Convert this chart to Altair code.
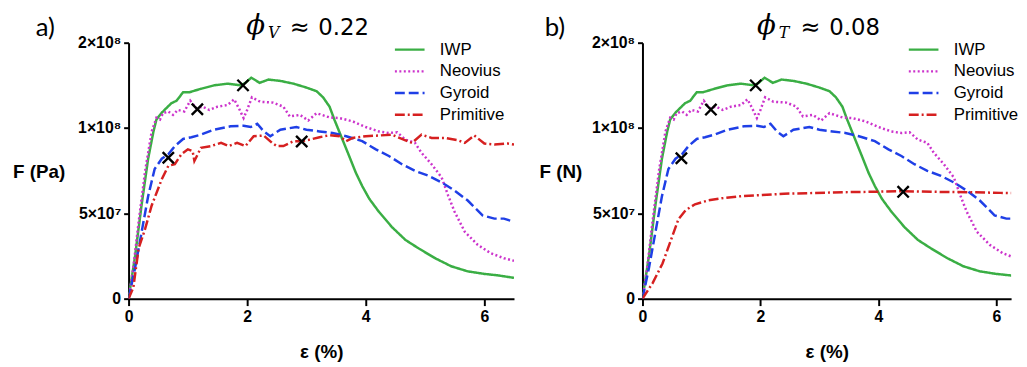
import altair as alt
import pandas as pd

SERIES = ["IWP", "Neovius", "Gyroid", "Primitive"]
COLORS = ["#3aae44", "#cc33cc", "#1f3fe6", "#d62020"]
DASHES = [[1, 0], [2, 2.5], [10, 4], [10, 3, 2, 3]]

# strain (%) and force (x1e8)
iwp_x = [0, 0.11, 0.22, 0.33, 0.42, 0.47, 0.56, 0.72, 0.81, 0.92, 1.03, 1.22, 1.44, 1.67, 1.89, 1.97,
         2.07, 2.21, 2.36, 2.56, 2.78, 3.0, 3.17, 3.28, 3.39, 3.47, 3.61, 3.72, 3.83, 3.94, 4.06, 4.22,
         4.44, 4.67, 4.89, 5.17, 5.44, 5.72, 6.0, 6.22, 6.5]
iwp_y = [0, 0.25, 0.55, 0.82, 0.98, 1.05, 1.09, 1.145, 1.16, 1.21, 1.21, 1.23, 1.25, 1.26, 1.25, 1.265,
         1.295, 1.265, 1.284, 1.276, 1.26, 1.237, 1.216, 1.18, 1.125, 1.05, 0.93, 0.836, 0.74, 0.66, 0.585,
         0.51, 0.42, 0.344, 0.295, 0.237, 0.19, 0.16, 0.145, 0.137, 0.122]

neo_x = [0, 0.08, 0.17, 0.28, 0.39, 0.47, 0.53, 0.58, 0.67, 0.75, 0.83, 0.94, 1.04, 1.14, 1.25, 1.36,
         1.5, 1.67, 1.78, 1.86, 1.94, 2.0, 2.08, 2.22, 2.44, 2.61, 2.72, 2.89, 3.03, 3.17, 3.39, 3.56,
         3.78, 4.0, 4.22, 4.39, 4.53, 4.67, 4.83, 4.94, 5.11, 5.28, 5.39, 5.5, 5.67, 5.89, 6.11, 6.33, 6.5]
neo_y = [0, 0.18, 0.45, 0.75, 0.98, 1.06, 1.05, 1.087, 1.097, 1.077, 1.106, 1.097, 1.16, 1.116, 1.125,
         1.106, 1.125, 1.135, 1.168, 1.116, 1.058, 1.106, 1.18, 1.154, 1.149, 1.125, 1.068, 1.077, 1.044,
         1.087, 1.062, 1.058, 1.039, 1.006, 0.98, 0.971, 0.975, 0.932, 0.913, 0.855, 0.788, 0.71, 0.604,
         0.508, 0.392, 0.315, 0.266, 0.237, 0.222]

gyr_x = [0, 0.11, 0.22, 0.33, 0.44, 0.56, 0.67, 0.78, 0.92, 1.06, 1.22, 1.44, 1.72, 1.94, 2.06, 2.17,
         2.28, 2.39, 2.56, 2.83, 3.0, 3.22, 3.44, 3.67, 3.94, 4.17, 4.39, 4.61, 4.83, 5.06, 5.28, 5.5,
         5.72, 5.97, 6.17, 6.33, 6.5]
gyr_y = [0, 0.18, 0.39, 0.6, 0.76, 0.82, 0.846, 0.894, 0.936, 0.946, 0.961, 0.99, 1.01, 1.013, 1.006,
         1.025, 0.98, 0.952, 0.99, 1.006, 0.99, 0.98, 0.971, 0.952, 0.923, 0.875, 0.836, 0.788, 0.749,
         0.72, 0.681, 0.633, 0.575, 0.488, 0.469, 0.469, 0.45]

prim_a_x = [0, 0.08, 0.17, 0.28, 0.39, 0.56, 0.67, 0.78, 0.89, 1.0, 1.08, 1.11, 1.22, 1.39, 1.56, 1.69,
            1.83, 1.97, 2.11, 2.28, 2.42, 2.5, 2.61, 2.78, 2.92, 3.06, 3.22, 3.39, 3.56, 3.67, 3.78, 4.0,
            4.22, 4.44, 4.67, 4.78, 4.94, 5.11, 5.33, 5.56, 5.67, 5.83, 6.0, 6.17, 6.39, 6.5]
prim_a_y = [0, 0.064, 0.295, 0.41, 0.546, 0.70, 0.778, 0.788, 0.846, 0.875, 0.865, 0.807, 0.884, 0.894,
            0.913, 0.894, 0.913, 0.894, 0.952, 0.956, 0.913, 0.894, 0.894, 0.923, 0.923, 0.932, 0.946,
            0.958, 0.952, 0.923, 0.942, 0.952, 0.956, 0.961, 0.928, 0.913, 0.961, 0.942, 0.942, 0.928,
            0.913, 0.956, 0.909, 0.903, 0.909, 0.903]

prim_b_x = [0, 0.17, 0.34, 0.5, 0.61, 0.73, 0.89, 1.12, 1.34, 1.68, 2.01, 2.4, 2.79, 3.41, 3.84, 4.4,
            4.96, 5.51, 6.07, 6.5]
prim_b_y = [0, 0.09, 0.206, 0.36, 0.466, 0.518, 0.553, 0.576, 0.588, 0.601, 0.607, 0.615, 0.618, 0.624,
            0.626, 0.63, 0.626, 0.624, 0.62, 0.617]

cross_a_x = [1.93, 1.16, 0.67, 2.92]
cross_a_y = [1.25, 1.11, 0.826, 0.921]
cross_b_x = [1.92, 1.16, 0.66, 4.42]
cross_b_y = [1.25, 1.108, 0.823, 0.626]

Y_TICKS = [0, 5e7, 1e8, 1.5e8]
X_TICKS = [0, 2, 4, 6]


def long_df(pairs):
    rows = []
    for name, xs, ys in pairs:
        for i, (a, b) in enumerate(zip(xs, ys)):
            rows.append({"series": name, "strain": a, "force": b * 1e8, "i": i})
    return pd.DataFrame(rows)


df_a = long_df([("IWP", iwp_x, iwp_y), ("Neovius", neo_x, neo_y),
                ("Gyroid", gyr_x, gyr_y), ("Primitive", prim_a_x, prim_a_y)])
df_b = long_df([("IWP", iwp_x, iwp_y), ("Neovius", neo_x, neo_y),
                ("Gyroid", gyr_x, gyr_y), ("Primitive", prim_b_x, prim_b_y)])
cr_a = pd.DataFrame({"strain": cross_a_x, "force": [v * 1e8 for v in cross_a_y]})
cr_b = pd.DataFrame({"strain": cross_b_x, "force": [v * 1e8 for v in cross_b_y]})

LABEL_EXPR = ("datum.value == 0 ? '0' : datum.value == 50000000 ? '5×10⁷' : "
              "datum.value == 100000000 ? '1×10⁸' : '2×10⁸'")


def text_mark(s, x, y, font, size, style="normal"):
    return alt.Chart(pd.DataFrame({"t": [s]})).mark_text(
        text=s, font=font, fontSize=size, fontStyle=style, align="left",
        baseline="alphabetic", color="black"
    ).encode(x=alt.value(x), y=alt.value(y))


def panel(df, cr, letter, letter_x, sub, val, ytitle, ytitle_x, xmax, width, title_dx):
    xenc = alt.X("strain:Q",
                 scale=alt.Scale(domain=[0, xmax], nice=False, zero=True),
                 axis=alt.Axis(values=X_TICKS, format="d", labelFlush=False, title="ε (%)",
                               tickSize=7, labelPadding=3,
                               titleFontSize=19, titleY=54, titleBaseline="middle"))
    yenc = alt.Y("force:Q",
                 scale=alt.Scale(domain=[0, 1.5e8], nice=False),
                 axis=alt.Axis(values=Y_TICKS, labelExpr=LABEL_EXPR, labelFlush=False, title=ytitle,
                               tickSize=5, labelPadding=3, titleAngle=0,
                               titleX=ytitle_x, titleY=130, titleAlign="center",
                               titleBaseline="middle", titleFontSize=19))
    leg = alt.Legend(title=None, orient="none", legendX=268, legendY=-4,
                     symbolType="stroke", symbolSize=900, symbolStrokeWidth=2.5,
                     labelFont="Liberation Sans", labelFontSize=17, labelColor="black",
                     labelOffset=14, clipHeight=22, rowPadding=0, padding=0)
    lines = alt.Chart(df).mark_line(strokeWidth=2.5, clip=True).encode(
        x=xenc, y=yenc,
        color=alt.Color("series:N", scale=alt.Scale(domain=SERIES, range=COLORS), legend=leg),
        strokeDash=alt.StrokeDash("series:N", scale=alt.Scale(domain=SERIES, range=DASHES), legend=leg),
        order="i:Q",
    )
    crosses = alt.Chart(cr).mark_point(
        shape="M-1,-1L1,1M-1,1L1,-1", size=130, filled=False, stroke="black", strokeWidth=2.4, opacity=1
    ).encode(x="strain:Q", y="force:Q")
    t1 = text_mark("ϕ", title_dx, -9, "DejaVu Serif", 28, "italic")
    t2 = text_mark(sub, title_dx + 22, -5, "DejaVu Serif", 16, "italic")
    t3 = text_mark("≈", title_dx + 44, -8, "DejaVu Sans", 24)
    t4 = text_mark(val, title_dx + 73, -8, "DejaVu Sans", 23)
    t5 = text_mark(letter, letter_x, -7, "Lato", 26)
    return alt.layer(lines, crosses, t1, t2, t3, t4, t5).properties(width=width, height=259)


pa = panel(df_a, cr_a, "a)", -94, "V", "0.22", "F (Pa)", -91, 6.5, 390, 119)
pb = panel(df_b, cr_b, "b)", -99, "T", "0.08", "F (N)", -83, 6.25, 373, 116)

chart = alt.hconcat(pa, pb, spacing=25).resolve_scale(
    x="independent", y="independent", color="independent", strokeDash="independent"
).resolve_legend(color="independent", strokeDash="independent").properties(
    padding={"left": 4, "top": 2, "right": 0, "bottom": 0}
).configure_view(strokeWidth=0).configure_axis(
    grid=False, domainColor="black", domainWidth=2, tickColor="black", tickWidth=2,
    labelFont="Liberation Sans", labelFontWeight="bold", labelFontSize=16, labelColor="black",
    titleFont="Liberation Sans", titleFontWeight="bold", titleColor="black"
)

chart.save("out.html", embed_options={"renderer": "svg", "actions": False})
